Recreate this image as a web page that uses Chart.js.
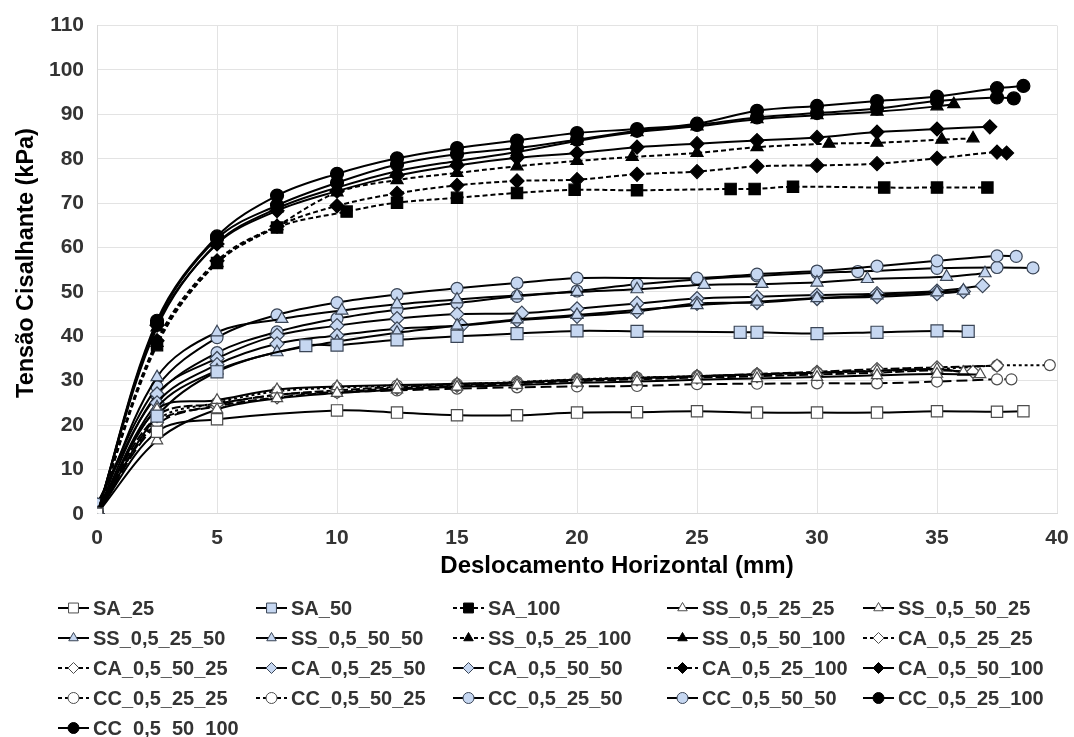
<!DOCTYPE html>
<html>
<head>
<meta charset="utf-8">
<script src="https://cdn.jsdelivr.net/npm/chart.js@4"></script>
<style>
html,body{margin:0;padding:0;background:#fff;}
#wrap{width:1074px;height:737px;position:relative;}
</style>
</head>
<body>
<div id="wrap"><canvas id="c" width="1074" height="737"></canvas></div>
<script>
// ---- data (x = deslocamento mm, y = tensão kPa) ----
const SA_25_x = [0,2.5,5,10,12.5,15,17.5,20,22.5,25,27.5,30,32.5,35,37.5,38.6];
const SA_25_y = [0,18.5,21.3,23.3,22.8,22.2,22.2,22.8,22.9,23.1,22.8,22.8,22.8,23.1,23.0,23.1];
const SA_50_x = [0,2.5,5,8.7,10,12.5,15,17.5,20,22.5,26.8,27.5,30,32.5,35,36.3];
const SA_50_y = [0,22,32,37.9,38.0,39.2,40.0,40.6,41.2,41.1,40.9,40.9,40.6,40.9,41.2,41.1];
const SA_100_x = [0,2.5,5,7.5,10.4,12.5,15,17.5,19.9,22.5,26.4,27.4,29,32.8,35,37.1];
const SA_100_y = [0,38,56.5,64.5,68.1,70.1,71.2,72.3,73.0,72.9,73.2,73.2,73.7,73.5,73.5,73.5];
const SS_25_25_x = [0,2.5,5,7.5,10,12.5,15,17.5,20,22.5,25,27.5,30,32.5,35,36.8];
const SS_25_25_y = [0,16.5,23.5,26,27.2,28,28.6,29,29.5,29.8,30.2,30.5,30.8,31.2,31.5,31.4];
const SS_50_25_x = [0,2.5,5,7.5,10,12.5,15,17.5,20,22.5,25,27.5,30,32.5,35,36.1];
const SS_50_25_y = [0,23.5,25.6,28.0,28.7,29,29.3,29.6,30.2,30.6,31,31.4,31.8,32.2,32.6,31.9];
const SS_25_50_x = [0,2.5,5,7.7,10.2,12.5,15,17.5,20,22.5,25.3,27.7,30,32.1,35.4,37];
const SS_25_50_y = [0,30.8,40.9,43.9,45.8,47.2,48.3,49.2,50.0,50.6,51.6,51.8,52.1,52.9,53.4,54.2];
const SS_50_50_x = [0,2.5,5,7.5,10,12.5,15,17.5,20,22.5,25,27.5,30,32.5,35,36.1];
const SS_50_50_y = [0,24,32.3,36.4,38.8,40.8,42.4,43.8,44.8,45.9,47.0,47.8,48.6,49.2,49.9,50.3];
const SS_25_100_x = [0,2.5,5,7.5,10,12.5,15,17.5,20,22.3,25,27.5,30.5,32.5,35.2,36.5];
const SS_25_100_y = [0,38.5,56.5,64.8,72.4,75.2,76.8,78.3,79.5,80.4,81.3,82.6,83.4,83.6,84.3,84.6];
const SS_50_100_x = [0,2.5,5,7.5,10,12.5,15,17.5,20,22.5,25,27.5,30,32.5,35,35.7];
const SS_50_100_y = [0,42,61,68.8,73.5,77.2,79.5,81.5,84.0,86.0,87.3,88.9,89.8,90.6,91.8,92.3];
const CA_25_25_x = [0,2.5,5,7.5,10,12.5,15,17.5,20,22.5,25,27.5,30,32.5,35,37.5];
const CA_25_25_y = [0,22,24.8,26.8,27.8,28.6,29.1,29.6,30.2,30.6,31.0,31.5,32.0,32.6,33.0,33.4];
const CA_50_25_x = [0,2.5,5,7.5,10,12.5,15,17.5,20,22.5,25,27.5,30,32.5,35,36.5];
const CA_50_25_y = [0,20.5,24.2,26.2,27.4,28.3,28.8,29.4,29.9,30.3,30.7,31.0,31.4,31.8,32.3,32.0];
const CA_25_50_x = [0,2.5,5,7.5,10,12.5,15.2,17.5,20,22.5,25,27.5,30,32.5,35,36.1];
const CA_25_50_y = [0,25,33.6,38.3,40.2,41.7,42.4,43.6,44.5,45.6,47.4,47.6,48.5,48.9,49.6,50.1];
const CA_50_50_x = [0,2.5,5,7.5,10,12.5,15,17.7,20,22.5,25,27.5,30,32.5,35,36.9];
const CA_50_50_y = [0,27,35,40.2,42.4,44.0,45.0,45.2,46.2,47.4,48.5,48.9,49.3,49.6,50.2,51.4];
const CA_25_100_x = [0,2.5,5,7.5,10,12.5,15,17.5,20,22.5,25,27.5,30,32.5,35,37.5,37.9];
const CA_25_100_y = [0,39,57,64.8,69.4,72.2,74.0,75.0,75.3,76.5,77.1,78.3,78.5,78.9,80.1,81.5,81.3];
const CA_50_100_x = [0,2.5,5,7.5,10,12.5,15,17.5,20,22.5,25,27.5,30,32.5,35,37.2];
const CA_50_100_y = [0,42.5,60.8,68.3,72.7,76.2,78.5,80.2,81.3,82.6,83.4,84.1,84.8,86.0,86.7,87.2];
const CC_25_25_x = [0,2.5,5,7.5,10,12.5,15,17.5,20,22.5,25,27.5,30,32.5,35,37.5,38.1];
const CC_25_25_y = [0,20,24.5,26.8,27.4,27.8,28.2,28.5,28.7,28.8,29.2,29.3,29.4,29.4,29.8,30.3,30.3];
const CC_50_25_x = [0,2.5,5,7.5,10,12.5,15,17.5,20,22.5,25,27.5,30,32.5,35,37.5,39.7];
const CC_50_25_y = [0,21,25,27.6,28.4,28.9,29.2,29.7,30.3,30.7,31.0,31.4,31.8,32.2,32.6,33.4,33.5];
const CC_25_50_x = [0,2.5,5,7.5,10,12.5,15,17.5,20,25,27.5,30,32.5,35,37.5,38.3];
const CC_25_50_y = [2.2,28.6,39.7,44.8,47.6,49.4,50.8,52.0,53.1,53.1,54.0,54.7,55.8,57.0,58.1,58.0];
const CC_50_50_x = [0,2.5,5,7.5,10,12.5,15,17.5,20,22.5,25,27.5,30,31.7,35,37.5,39];
const CC_50_50_y = [2.2,26.7,36.3,41.0,44.0,46.0,47.5,49.0,50.2,51.7,52.8,53.6,54.3,54.6,55.3,55.5,55.4];
const CC_25_100_x = [0,2.5,5,7.5,10,12.5,15,17.5,20,22.5,25,27.5,30,32.5,35,37.5,38.6];
const CC_25_100_y = [0,43.5,62.5,71.7,76.6,80.1,82.4,84.1,85.8,86.7,87.9,90.8,91.9,93.0,94.0,95.9,96.4];
const CC_50_100_x = [0,2.5,5,7.5,10,12.5,15,17.5,20,22.5,25,27.5,30,32.5,35,37.5,38.2];
const CC_50_100_y = [0,43,62,69.5,74.6,78.7,81.0,82.4,84.3,86.3,87.6,89.3,90.3,91.3,93.0,93.8,93.6];

const xTicks = [0,5,10,15,20,25,30,35,40];
const yTicks = [0,10,20,30,40,50,60,70,80,90,100,110];
const xTitle = 'Deslocamento Horizontal (mm)';
const yTitle = 'Tensão Cisalhante (kPa)';

// ---- styles ----
const WHITE = '#ffffff', BLUE = '#c6d7f1', BLACK = '#000000';
const GREYB = '#4d4d4d', BLUEB = '#3a4556';
const shortDash = [5,3], longDash = [11,5], dotDash = [3,3], mixDash = [9,3];

function ser(label, xs, ys, style, fill, border, dash, r) {
  return {
    label: label,
    data: xs.map((x, i) => ({x: x, y: ys[i]})),
    showLine: true,
    borderColor: BLACK,
    borderWidth: 2,
    borderDash: dash,
    tension: 0.35,
    pointStyle: style,
    pointRadius: r,
    pointHoverRadius: r,
    pointBackgroundColor: fill,
    pointBorderColor: border,
    pointBorderWidth: 1.2,
    backgroundColor: fill
  };
}

const datasets = [
  ser('SA_25', SA_25_x, SA_25_y, 'rect', WHITE, GREYB, [], 8),
  ser('SA_50', SA_50_x, SA_50_y, 'rect', BLUE, BLUEB, [], 8.5),
  ser('SA_100', SA_100_x, SA_100_y, 'rect', BLACK, BLACK, shortDash, 8),
  ser('SS_0,5_25_25', SS_25_25_x, SS_25_25_y, 'triangle', WHITE, GREYB, [], 6.5),
  ser('SS_0,5_50_25', SS_50_25_x, SS_50_25_y, 'triangle', WHITE, GREYB, [], 6.5),
  ser('SS_0,5_25_50', SS_25_50_x, SS_25_50_y, 'triangle', BLUE, BLUEB, [], 7),
  ser('SS_0,5_50_50', SS_50_50_x, SS_50_50_y, 'triangle', BLUE, BLUEB, [], 7),
  ser('SS_0,5_25_100', SS_25_100_x, SS_25_100_y, 'triangle', BLACK, BLACK, shortDash, 7),
  ser('SS_0,5_50_100', SS_50_100_x, SS_50_100_y, 'triangle', BLACK, BLACK, [], 7),
  ser('CA_0,5_25_25', CA_25_25_x, CA_25_25_y, 'rectRot', WHITE, GREYB, mixDash, 6.5),
  ser('CA_0,5_50_25', CA_50_25_x, CA_50_25_y, 'rectRot', WHITE, GREYB, mixDash, 6.5),
  ser('CA_0,5_25_50', CA_25_50_x, CA_25_50_y, 'rectRot', BLUE, BLUEB, [], 7),
  ser('CA_0,5_50_50', CA_50_50_x, CA_50_50_y, 'rectRot', BLUE, BLUEB, [], 7),
  ser('CA_0,5_25_100', CA_25_100_x, CA_25_100_y, 'rectRot', BLACK, BLACK, shortDash, 7),
  ser('CA_0,5_50_100', CA_50_100_x, CA_50_100_y, 'rectRot', BLACK, BLACK, [], 7),
  ser('CC_0,5_25_25', CC_25_25_x, CC_25_25_y, 'circle', WHITE, GREYB, longDash, 5.5),
  ser('CC_0,5_50_25', CC_50_25_x, CC_50_25_y, 'circle', WHITE, GREYB, dotDash, 5.5),
  ser('CC_0,5_25_50', CC_25_50_x, CC_25_50_y, 'circle', BLUE, BLUEB, [], 6),
  ser('CC_0,5_50_50', CC_50_50_x, CC_50_50_y, 'circle', BLUE, BLUEB, [], 6),
  ser('CC_0,5_25_100', CC_25_100_x, CC_25_100_y, 'circle', BLACK, BLACK, [], 6.5),
  ser('CC_0,5_50_100', CC_50_100_x, CC_50_100_y, 'circle', BLACK, BLACK, [], 6.5)
];

const TEXT = '#333333';
const FONT = "'Liberation Sans', Arial, sans-serif";

// axis titles placed like the original (x title sits right of centre)
const axisTitles = {
  id: 'axisTitles',
  afterDraw(chart) {
    const ctx = chart.ctx;
    ctx.save();
    ctx.fillStyle = '#000';
    ctx.font = "bold 24px " + FONT;
    ctx.textAlign = 'center';
    ctx.textBaseline = 'middle';
    ctx.fillText(xTitle, 617, 566);
    ctx.translate(27, 263);
    ctx.rotate(-Math.PI / 2);
    ctx.font = "bold 23.5px " + FONT;
    ctx.fillText(yTitle, 0, 0);
    ctx.restore();
  }
};

// custom grid legend drawn with Chart.js helpers
const gridLegend = {
  id: 'gridLegend',
  afterDraw(chart) {
    const ctx = chart.ctx;
    const colX = [58, 256, 453, 667, 863];
    const row0 = 608, rowH = 30, lineLen = 31;
    ctx.save();
    chart.data.datasets.forEach((ds, i) => {
      const col = i % 5, row = Math.floor(i / 5);
      const x0 = colX[col], y = row0 + row * rowH;
      ctx.strokeStyle = BLACK;
      ctx.lineWidth = 2;
      ctx.setLineDash(ds.borderDash && ds.borderDash.length ? [4,3] : []);
      ctx.beginPath();
      ctx.moveTo(x0, y);
      ctx.lineTo(x0 + lineLen, y);
      ctx.stroke();
      ctx.setLineDash([]);
      ctx.fillStyle = ds.pointBackgroundColor;
      ctx.strokeStyle = ds.pointBorderColor;
      ctx.lineWidth = 1;
      Chart.helpers.drawPoint(ctx, {pointStyle: ds.pointStyle, rotation: 0,
        radius: ds.pointStyle === 'rect' ? 7 : 5.5, borderWidth: 1}, x0 + lineLen / 2, y);
      ctx.fillStyle = TEXT;
      ctx.font = "bold 20px " + FONT;
      ctx.textBaseline = 'middle';
      ctx.textAlign = 'left';
      ctx.fillText(ds.label, x0 + lineLen + 4, y + 1);
    });
    ctx.restore();
  }
};

new Chart(document.getElementById('c'), {
  type: 'scatter',
  data: { datasets: datasets },
  plugins: [gridLegend, axisTitles],
  options: {
    responsive: false,
    animation: false,
    events: [],
    layout: { padding: { top: 12, right: 3, bottom: 174, left: 36 } },
    plugins: { legend: { display: false }, tooltip: { enabled: false } },
    scales: {
      x: {
        type: 'linear', min: 0, max: 40,
        afterBuildTicks: (s) => { s.ticks = xTicks.map(v => ({value: v})); },
        afterFit: (s) => { s.paddingRight = 17; },
        grid: { color: '#e3e3e3', lineWidth: 1, drawTicks: false },
        border: { color: '#d9d9d9' },
        ticks: { padding: 12, color: TEXT, font: { family: FONT, size: 21, weight: 'bold' } },
        title: { display: false, text: xTitle }
      },
      y: {
        type: 'linear', min: 0, max: 110,
        afterBuildTicks: (s) => { s.ticks = yTicks.map(v => ({value: v})); },
        grid: { color: '#e3e3e3', lineWidth: 1, drawTicks: false },
        border: { color: '#d9d9d9' },
        ticks: { padding: 13, color: TEXT, font: { family: FONT, size: 21, weight: 'bold' } },
        title: { display: false, text: yTitle }
      }
    }
  }
});
</script>
</body>
</html>
